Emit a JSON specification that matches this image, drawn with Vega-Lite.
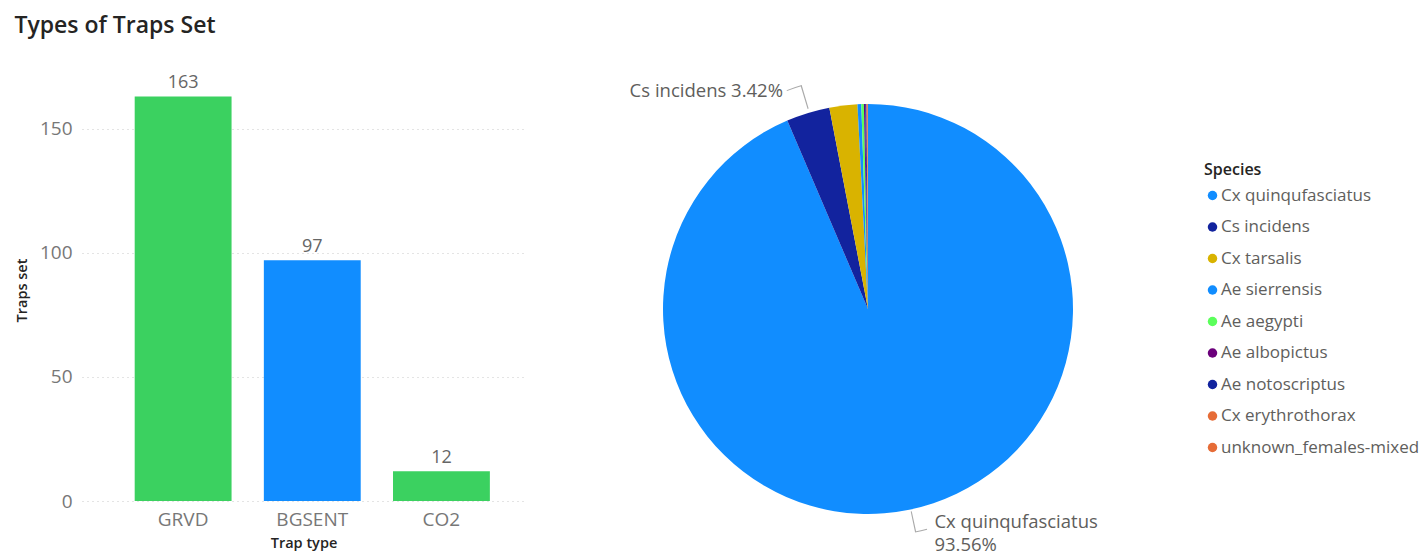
{
  "$schema": "https://vega.github.io/schema/vega-lite/v6.json",
  "padding": {"left": 14, "top": 15, "right": 0, "bottom": 0},
  "background": "#ffffff",
  "title": {"text": "Types of Traps Set", "anchor": "start", "frame": "bounds", "font": "Open Sans", "fontSize": 23, "fontWeight": 600, "color": "#252423", "offset": 36},
  "bounds": "flush",
  "spacing": 133,
  "resolve": {"scale": {"color": "independent"}, "legend": {"color": "independent"}},
  "hconcat": [
    {
      "width": 443,
      "height": 422,
      "data": {"values": [
        {"trap": "GRVD", "traps": 163},
        {"trap": "BGSENT", "traps": 97},
        {"trap": "CO2", "traps": 12}
      ]},
      "encoding": {
        "x": {"field": "trap", "type": "nominal", "sort": null, "title": "Trap type",
          "scale": {"paddingInner": 0.25, "paddingOuter": 0.34, "align": 0.6},
          "axis": {"labelAngle": 0, "ticks": false, "domain": false, "labelFontSize": 19, "labelColor": "#777777", "labelFont": "Open Sans", "labelPadding": 9, "titleFont": "Open Sans", "titleFontSize": 14.5, "titleFontWeight": 600, "titleColor": "#252423", "titlePadding": 7}},
        "y": {"field": "traps", "type": "quantitative", "title": "Traps set",
          "scale": {"domain": [0, 170], "nice": false},
          "axis": {"values": [0, 50, 100, 150], "ticks": false, "domain": false, "labelFontSize": 19, "labelColor": "#777777", "labelFont": "Open Sans", "labelPadding": 10, "grid": true, "gridDash": [1, 4], "gridColor": "#c8c8c8", "titleFont": "Open Sans", "titleFontSize": 14.5, "titleFontWeight": 600, "titleColor": "#252423", "titlePadding": 10}}
      },
      "layer": [
        {"mark": {"type": "bar"},
         "encoding": {"color": {"field": "trap", "type": "nominal", "legend": null,
           "scale": {"domain": ["GRVD", "BGSENT", "CO2"], "range": ["#3BD160", "#118DFF", "#3BD160"]}}}},
        {"mark": {"type": "text", "baseline": "bottom", "dy": -4, "font": "Open Sans", "fontSize": 18, "color": "#666666"},
         "encoding": {"text": {"field": "traps", "type": "quantitative"}}}
      ]
    },
    {
      "width": 420,
      "height": 460,
      "layer": [
        {
          "data": {"values": [
            {"species": "Cx quinqufasciatus", "pct": 93.56, "rank": 1},
            {"species": "Cs incidens", "pct": 3.42, "rank": 2},
            {"species": "Cx tarsalis", "pct": 2.2, "rank": 3},
            {"species": "Ae sierrensis", "pct": 0.3, "rank": 4},
            {"species": "Ae aegypti", "pct": 0.2, "rank": 5},
            {"species": "Ae albopictus", "pct": 0.1, "rank": 6},
            {"species": "Ae notoscriptus", "pct": 0.1, "rank": 7},
            {"species": "Cx erythrothorax", "pct": 0.06, "rank": 8},
            {"species": "unknown_females-mixed", "pct": 0.06, "rank": 9}
          ]},
          "mark": {"type": "arc", "outerRadius": 205},
          "encoding": {
            "theta": {"field": "pct", "type": "quantitative", "stack": true},
            "order": {"field": "rank", "type": "quantitative"},
            "color": {"field": "species", "type": "nominal", "title": "Species",
              "scale": {
                "domain": ["Cx quinqufasciatus", "Cs incidens", "Cx tarsalis", "Ae sierrensis", "Ae aegypti", "Ae albopictus", "Ae notoscriptus", "Cx erythrothorax", "unknown_females-mixed"],
                "range": ["#118DFF", "#12239E", "#D9B300", "#118DFF", "#5BFF5B", "#6B007B", "#12239E", "#E66C37", "#E66C37"]},
              "legend": {"orient": "none", "legendX": 546, "legendY": 83, "symbolType": "circle", "symbolSize": 90, "symbolStrokeWidth": 0,
                "titleFont": "Open Sans", "titleFontSize": 16, "titleFontWeight": 600, "titleColor": "#252423", "titlePadding": 9,
                "labelFont": "Open Sans", "labelFontSize": 17, "labelColor": "#605E5C", "labelOffset": 0, "rowPadding": 13.5, "labelLimit": 300}}
          }
        },
        {
          "data": {"values": [
            {"label": "Cs incidens 3.42%", "ang": 338.7}
          ]},
          "mark": {"type": "text", "radius": 234, "align": "right", "baseline": "middle", "font": "Open Sans", "fontSize": 18.5, "color": "#605E5C"},
          "encoding": {
            "theta": {"field": "ang", "type": "quantitative", "scale": {"domain": [0, 360], "range": [0, 6.283185]}},
            "text": {"field": "label"}
          }
        },
        {
          "data": {"values": [
            {"label": ["Cx quinqufasciatus", "93.56%"], "ang": 162}
          ]},
          "mark": {"type": "text", "radius": 215, "align": "left", "baseline": "top", "lineHeight": 23, "font": "Open Sans", "fontSize": 18.5, "color": "#605E5C"},
          "encoding": {
            "theta": {"field": "ang", "type": "quantitative", "scale": {"domain": [0, 360], "range": [0, 6.283185]}},
            "text": {"field": "label"}
          }
        },
        {
          "data": {"values": [{"a1": 343.2, "a2": 343.5}]},
          "mark": {"type": "arc", "radius": 209, "radius2": 233, "color": "#aaaaaa"},
          "encoding": {
            "theta": {"field": "a1", "type": "quantitative", "scale": {"domain": [0, 360], "range": [0, 6.283185]}},
            "theta2": {"field": "a2"}
          }
        },
        {
          "data": {"values": [{"a1": 339.6, "a2": 343.5}]},
          "mark": {"type": "arc", "radius": 232.5, "radius2": 233.5, "color": "#aaaaaa"},
          "encoding": {
            "theta": {"field": "a1", "type": "quantitative", "scale": {"domain": [0, 360], "range": [0, 6.283185]}},
            "theta2": {"field": "a2"}
          }
        },
        {
          "data": {"values": [{"a1": 167.8, "a2": 168.1}]},
          "mark": {"type": "arc", "radius": 207, "radius2": 228, "color": "#aaaaaa"},
          "encoding": {
            "theta": {"field": "a1", "type": "quantitative", "scale": {"domain": [0, 360], "range": [0, 6.283185]}},
            "theta2": {"field": "a2"}
          }
        },
        {
          "data": {"values": [{"a1": 165.0, "a2": 168.1}]},
          "mark": {"type": "arc", "radius": 227.5, "radius2": 228.5, "color": "#aaaaaa"},
          "encoding": {
            "theta": {"field": "a1", "type": "quantitative", "scale": {"domain": [0, 360], "range": [0, 6.283185]}},
            "theta2": {"field": "a2"}
          }
        }
      ],
      "resolve": {"scale": {"theta": "independent"}}
    }
  ],
  "config": {
    "view": {"stroke": null},
    "font": "Open Sans"
  }
}
